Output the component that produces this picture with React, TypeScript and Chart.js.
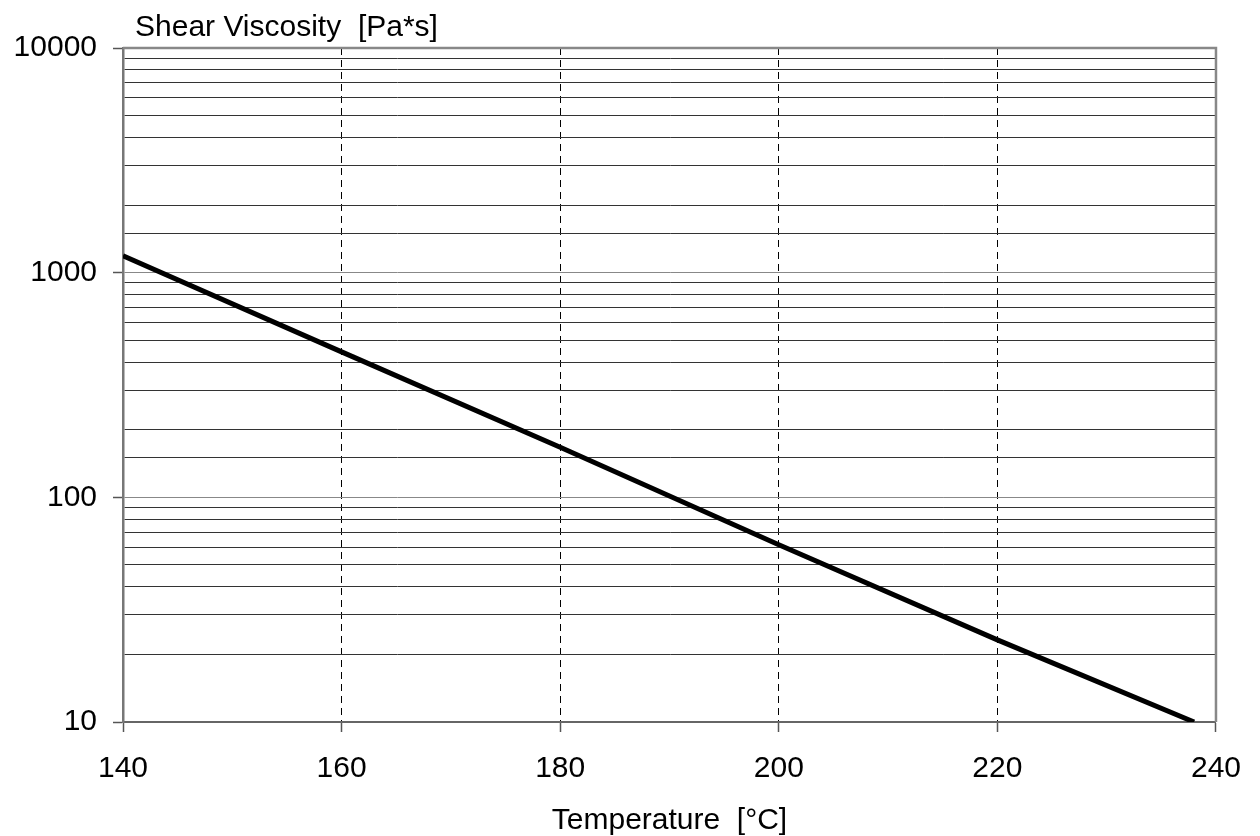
import React, { useEffect, useRef } from "react";
import { Chart, registerables } from "chart.js";

Chart.register(...registerables);

const temperatures = [140, 160, 180, 200, 220, 238];
const viscosity = [1190, 444, 167, 61.5, 23.2, 10];
const xTicks = [140, 160, 180, 200, 220, 240];
const yDecades = [10, 100, 1000, 10000];
const yTitle = "Shear Viscosity  [Pa*s]";
const xTitle = "Temperature  [°C]";

const FONT = "'Liberation Sans', Arial, sans-serif";

const framePlugin = {
  id: "frame",
  afterDatasetsDraw(chart: any) {
    const { ctx, chartArea } = chart;
    ctx.save();
    ctx.strokeStyle = "#888";
    ctx.lineWidth = 2.5;
    ctx.beginPath();
    ctx.moveTo(chartArea.left, chartArea.top);
    ctx.lineTo(chartArea.right, chartArea.top);
    ctx.lineTo(chartArea.right, chartArea.bottom);
    ctx.stroke();
    ctx.restore();
  },
  afterDraw(chart: any) {
    const { ctx, chartArea } = chart;
    ctx.save();
    ctx.fillStyle = "#000";
    ctx.font = `30px ${FONT}`;
    ctx.textBaseline = "alphabetic";
    ctx.textAlign = "left";
    ctx.fillText(yTitle, chartArea.left + 12, 36);
    ctx.restore();
  },
};

export default function App() {
  const ref = useRef<HTMLCanvasElement>(null);
  useEffect(() => {
    const canvas = ref.current!;
    const chart = new Chart(canvas, {
      type: "line",
      data: {
        datasets: [
          {
            data: temperatures.map((t, i) => ({ x: t, y: viscosity[i] })),
            borderColor: "#000",
            borderWidth: 5,
            pointRadius: 0,
            fill: false,
            tension: 0,
          },
        ],
      },
      plugins: [framePlugin],
      options: {
        animation: false,
        responsive: false,
        devicePixelRatio: 1,
        layout: { padding: { top: 48, right: 41, left: 0, bottom: 0 } },
        plugins: { legend: { display: false }, tooltip: { enabled: false }, title: { display: false } },
        scales: {
          x: {
            type: "linear",
            min: 140,
            max: 240,
            afterBuildTicks: (scale: any) => {
              scale.ticks = xTicks.map((v) => ({ value: v }));
            },
            afterFit: (scale: any) => {
              scale.height = 114;
            },
            ticks: {
              color: "#000",
              font: { size: 30, family: FONT },
              padding: 19,
              autoSkip: false,
              maxRotation: 0,
            },
            grid: {
              color: (ctx: any) =>
                ctx.tick && (ctx.tick.value === 140 || ctx.tick.value === 240) ? "rgba(0,0,0,0)" : "#000",
              lineWidth: 1,
              tickLength: 10,
              tickColor: "#555",
              tickWidth: 1.5,
              tickBorderDash: [],
            },
            border: { display: true, color: "#666", width: 2, dash: [7, 5] },
            title: {
              display: true,
              text: xTitle,
              color: "#000",
              font: { size: 30, family: FONT },
              padding: { top: 0, bottom: -3 },
            },
          },
          y: {
            type: "logarithmic",
            min: 10,
            max: 10000,
            afterFit: (scale: any) => {
              scale.width = 123;
            },
            ticks: {
              color: "#000",
              font: { size: 30, family: FONT },
              padding: 16,
              autoSkip: false,
              callback: (v: any) => (yDecades.includes(Number(v)) ? String(v) : ""),
            },
            grid: {
              color: (ctx: any) => {
                const v = ctx.tick ? ctx.tick.value : 0;
                if (v === 10 || v === 10000) return "rgba(0,0,0,0)";
                return yDecades.includes(v) ? "#888" : "#333";
              },
              lineWidth: 1,
              tickLength: 10,
              tickColor: (ctx: any) =>
                ctx.tick && yDecades.includes(ctx.tick.value) ? "#555" : "rgba(0,0,0,0)",
              tickWidth: 1.5,
            },
            border: { display: true, color: "#777", width: 2.5 },
          },
        },
      },
    } as any);
    return () => chart.destroy();
  }, []);
  return (
    <div style={{ position: "absolute", left: 0, top: 0, width: 1260, height: 836, background: "#fff" }}>
      <canvas ref={ref} width={1260} height={836} style={{ display: "block" }} />
    </div>
  );
}
